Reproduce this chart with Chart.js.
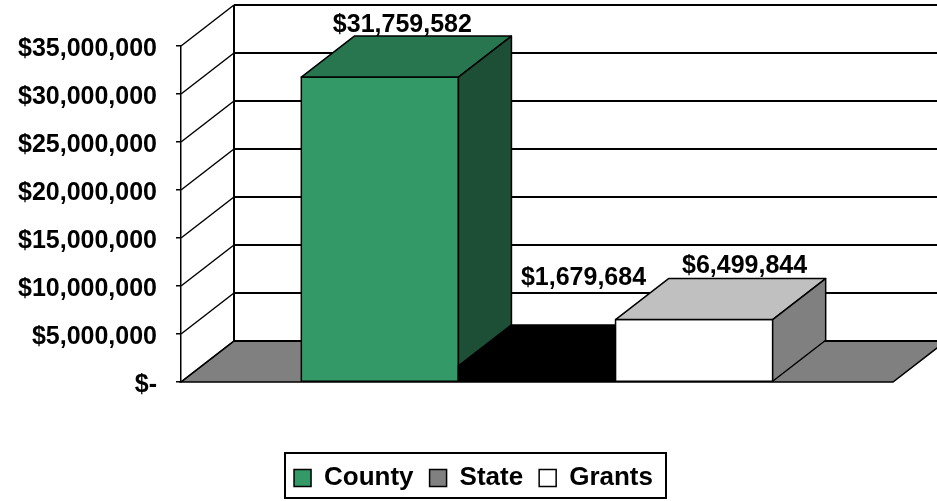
<!DOCTYPE html>
<html>
<head>
<meta charset="utf-8">
<script src="https://cdn.jsdelivr.net/npm/chart.js@4"></script>
<style>
body { margin: 0; background: #fff; }
</style>
</head>
<body>
<canvas id="fundChart" width="937" height="501"></canvas>
<script>
let categories = [""];
let seriesNames = ["County", "State", "Grants"];
let seriesValues = [31759582, 1679684, 6499844];
let yTicks = [0, 5000000, 10000000, 15000000, 20000000, 25000000, 30000000, 35000000];

// faces of each 3d bar: front, top, side
let frontColors = ["#339966", "#000000", "#ffffff"];
let topColors = ["#27764f", "#000000", "#c0c0c0"];
let sideColors = ["#1d4f36", "#000000", "#808080"];
let legendColors = ["#339966", "#808080", "#ffffff"];
// nudges for the value labels (x, y)
let labelShift = [[-4, 0], [20, -36], [24, -2]];

const DX = 53, DY = -41;   // depth of the 3d box
const FONT = "'Liberation Sans', Arial, sans-serif";

Chart.defaults.font.family = FONT;
Chart.defaults.color = "#000";

function money(v) {
    if (v === 0) return "$-";
    return "$" + String(v).replace(/\B(?=(\d{3})+(?!\d))/g, ",");
}

function face(ctx, pts, fill) {
    ctx.beginPath();
    ctx.moveTo(pts[0][0], pts[0][1]);
    for (let i = 1; i < pts.length; i++) ctx.lineTo(pts[i][0], pts[i][1]);
    ctx.closePath();
    ctx.fillStyle = fill;
    ctx.fill();
    ctx.stroke();
}

let box3d = {
    id: "box3d",
    beforeDatasetsDraw(chart) {
        let ctx = chart.ctx;
        let a = chart.chartArea;
        let ys = chart.scales.y;
        ctx.save();
        ctx.strokeStyle = "#000";
        ctx.lineWidth = 1.5;
        // floor
        face(ctx, [[a.left, a.bottom], [a.right, a.bottom], [a.right + DX, a.bottom + DY], [a.left + DX, a.bottom + DY]], "#808080");
        // walls and grid
        yTicks.forEach(t => {
            let py = Math.round(ys.getPixelForValue(t));
            ctx.lineWidth = 1.5;
            ctx.beginPath();
            ctx.moveTo(a.left, py);
            ctx.lineTo(a.left + DX, py + DY);
            ctx.stroke();
            ctx.lineWidth = 2;
            ctx.beginPath();
            ctx.moveTo(a.left + DX, py + DY);
            ctx.lineTo(chart.width, py + DY);
            ctx.stroke();
        });
        ctx.lineWidth = 2;
        ctx.beginPath();
        ctx.moveTo(a.left + DX, Math.round(a.top) + DY);
        ctx.lineTo(a.left + DX, Math.round(a.bottom) + DY);
        ctx.stroke();
        ctx.restore();
    },
    afterDatasetsDraw(chart) {
        let ctx = chart.ctx;
        ctx.save();
        ctx.strokeStyle = "#000";
        ctx.lineWidth = 1.5;
        ctx.lineJoin = "round";
        chart.data.datasets.forEach((ds, i) => {
            let bar = chart.getDatasetMeta(i).data[0];
            let p = bar.getProps(["x", "y", "base", "width"], true);
            let l = p.x - p.width / 2, r = p.x + p.width / 2;
            face(ctx, [[l, p.y], [r, p.y], [r, p.base], [l, p.base]], frontColors[i]);
            face(ctx, [[l, p.y], [l + DX, p.y + DY], [r + DX, p.y + DY], [r, p.y]], topColors[i]);
            face(ctx, [[r, p.y], [r + DX, p.y + DY], [r + DX, p.base + DY], [r, p.base]], sideColors[i]);
        });
        // value labels
        ctx.fillStyle = "#000";
        ctx.font = "bold 25px " + FONT;
        ctx.textAlign = "center";
        ctx.textBaseline = "alphabetic";
        chart.data.datasets.forEach((ds, i) => {
            let bar = chart.getDatasetMeta(i).data[0];
            let p = bar.getProps(["x", "y"], true);
            ctx.fillText(money(ds.data[0]), p.x + DX / 2 + labelShift[i][0], p.y + DY - 4 + labelShift[i][1]);
        });
        ctx.restore();
    },
    afterDraw(chart) {
        // frame round the legend
        let hb = chart.legend.legendHitBoxes;
        if (!hb || !hb.length) return;
        let first = hb[0], last = hb[hb.length - 1];
        let ctx = chart.ctx;
        ctx.save();
        ctx.strokeStyle = "#000";
        ctx.lineWidth = 2;
        let top = Math.round(first.top) - 12;
        ctx.strokeRect(Math.round(first.left) - 9, top, Math.round(last.left + last.width - first.left) + 22, 45);
        ctx.restore();
    }
};

let ctx = document.getElementById("fundChart").getContext("2d");

let chart = new Chart(ctx, {
    type: "bar",
    data: {
        labels: categories,
        datasets: seriesNames.map((name, i) => ({
            label: name,
            data: [seriesValues[i]],
            backgroundColor: frontColors[i],
            borderWidth: 0,
            categoryPercentage: 0.662,
            barPercentage: 1
        }))
    },
    options: {
        responsive: false,
        animation: false,
        layout: { padding: { top: 46, right: 0, left: 10, bottom: 0 } },
        scales: {
            x: {
                ticks: { display: false },
                grid: { display: false },
                border: { display: false },
                afterFit(s) {
                    s.height = s.chart.height - 382 - (s.chart.legend ? s.chart.legend.height : 60);
                }
            },
            y: {
                min: 0,
                max: 35000000,
                afterBuildTicks(s) {
                    s.ticks = yTicks.map(v => ({ value: v }));
                },
                afterFit(s) {
                    s.width = 171;
                },
                ticks: {
                    padding: 19,
                    labelOffset: 3,
                    color: "#000",
                    font: { size: 25, weight: "bold" },
                    callback: v => money(v)
                },
                grid: { drawOnChartArea: false, drawTicks: true, tickLength: 5, color: "#000", lineWidth: 1.5 },
                border: { display: true, color: "#000", width: 1.5 }
            },
            // empty strip on the right for the depth of the box
            depth: {
                position: "right",
                ticks: { display: false },
                grid: { display: false },
                border: { display: false },
                afterFit(s) {
                    s.width = 44;
                }
            }
        },
        plugins: {
            tooltip: { enabled: false },
            legend: {
                position: "bottom",
                labels: {
                    boxWidth: 17,
                    boxHeight: 17,
                    padding: 16,
                    color: "#000",
                    font: { size: 26, weight: "bold" },
                    generateLabels: () => seriesNames.map((n, i) => ({
                        text: n,
                        fillStyle: legendColors[i],
                        strokeStyle: "#000",
                        lineWidth: 1.5,
                        datasetIndex: i,
                        hidden: false
                    }))
                }
            }
        }
    },
    plugins: [box3d]
});
</script>
</body>
</html>
